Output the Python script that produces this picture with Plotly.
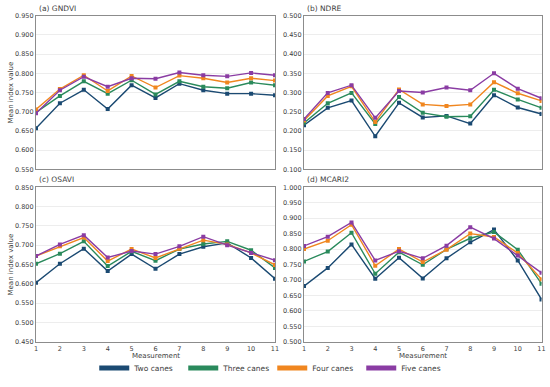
import plotly.graph_objects as go

measurements = list(range(1, 11 + 1))
series_names = ["Two canes", "Three canes", "Four canes", "Five canes"]
series_colors = ["#1b4a72", "#2a8a5c", "#f0861f", "#8a3ca3"]

gndvi_two = [0.657, 0.722, 0.757, 0.707, 0.769, 0.736, 0.773, 0.756, 0.747, 0.747, 0.743]
gndvi_three = [0.698, 0.741, 0.779, 0.747, 0.782, 0.745, 0.779, 0.765, 0.761, 0.776, 0.769]
gndvi_four = [0.706, 0.759, 0.795, 0.754, 0.793, 0.763, 0.794, 0.787, 0.776, 0.787, 0.781]
gndvi_five = [0.696, 0.756, 0.791, 0.765, 0.787, 0.786, 0.802, 0.795, 0.792, 0.801, 0.795]

ndre_two = [0.215, 0.260, 0.279, 0.186, 0.273, 0.235, 0.239, 0.219, 0.293, 0.261, 0.244]
ndre_three = [0.221, 0.272, 0.299, 0.218, 0.288, 0.247, 0.237, 0.238, 0.307, 0.282, 0.260]
ndre_four = [0.227, 0.291, 0.316, 0.223, 0.308, 0.269, 0.265, 0.269, 0.327, 0.298, 0.278]
ndre_five = [0.231, 0.299, 0.319, 0.234, 0.304, 0.300, 0.313, 0.306, 0.350, 0.310, 0.285]

osavi_two = [0.603, 0.652, 0.691, 0.633, 0.677, 0.639, 0.677, 0.696, 0.706, 0.667, 0.613]
osavi_three = [0.652, 0.678, 0.710, 0.646, 0.684, 0.660, 0.690, 0.703, 0.710, 0.687, 0.641]
osavi_four = [0.672, 0.697, 0.720, 0.659, 0.690, 0.667, 0.691, 0.713, 0.702, 0.680, 0.649]
osavi_five = [0.672, 0.702, 0.726, 0.668, 0.685, 0.677, 0.697, 0.722, 0.700, 0.680, 0.661]

mcari2_two = [0.680, 0.739, 0.815, 0.704, 0.772, 0.705, 0.770, 0.822, 0.863, 0.763, 0.637]
mcari2_three = [0.760, 0.792, 0.853, 0.720, 0.790, 0.749, 0.799, 0.835, 0.855, 0.798, 0.688]
mcari2_four = [0.800, 0.827, 0.879, 0.746, 0.800, 0.758, 0.798, 0.850, 0.839, 0.787, 0.702]
mcari2_five = [0.810, 0.840, 0.886, 0.763, 0.793, 0.770, 0.811, 0.871, 0.834, 0.779, 0.723]

panel_titles = ["(a) GNDVI", "(b) NDRE", "(c) OSAVI", "(d) MCARI2"]
panel_data = [
    [gndvi_two, gndvi_three, gndvi_four, gndvi_five],
    [ndre_two, ndre_three, ndre_four, ndre_five],
    [osavi_two, osavi_three, osavi_four, osavi_five],
    [mcari2_two, mcari2_three, mcari2_four, mcari2_five],
]
y_ranges = [(0.55, 0.95), (0.10, 0.50), (0.45, 0.85), (0.50, 1.00)]

W, H = 550, 387
x_domains = [(36 / W, 275 / W), (304 / W, 541.5 / W)]
y_domains = [(1 - 169.3 / H, 1 - 15.7 / H), (1 - 341.7 / H, 1 - 187.3 / H)]

FONT = "DejaVu Sans"
TXT = "#404040"

fig = go.Figure()
layout = {}
annotations = []
for i in range(4):
    row, col = divmod(i, 2)
    n = "" if i == 0 else str(i + 1)
    xa, ya = "xaxis" + n, "yaxis" + n
    xref, yref = "x" + n, "y" + n
    for s in range(4):
        fig.add_trace(go.Scatter(
            x=measurements, y=panel_data[i][s], mode="lines+markers",
            line=dict(color=series_colors[s], width=1.4),
            marker=dict(color=series_colors[s], size=4, symbol="square"),
            showlegend=False, xaxis=xref, yaxis=yref, name=series_names[s]))
    layout[xa] = dict(
        domain=x_domains[col], anchor=yref, range=[1, 11], tickvals=measurements,
        showticklabels=(row == 1), showgrid=False, zeroline=False, automargin=False,
        showline=True, mirror=True, linecolor="#8c8c8c", linewidth=1.3,
        ticks="", tickfont=dict(size=6.5, color=TXT, family=FONT))
    layout[ya] = dict(
        domain=y_domains[row], anchor=xref, range=list(y_ranges[i]), dtick=0.05,
        tick0=0, tickformat=".3f", showgrid=True, gridcolor="#ededed", gridwidth=0.8,
        zeroline=False, showline=True, mirror=True, linecolor="#8c8c8c", linewidth=1.3,
        automargin=False, ticks="", tickfont=dict(size=6.5, color=TXT, family=FONT))
    annotations.append(dict(
        text=panel_titles[i], xref="paper", yref="paper",
        x=x_domains[col][0] + 1 / W, y=y_domains[row][1] + 1 / H,
        xanchor="left", yanchor="bottom", showarrow=False,
        font=dict(size=7.5, color=TXT, family=FONT)))
    if row == 1:
        annotations.append(dict(
            text="Measurement", xref="paper", yref="paper",
            x=sum(x_domains[col]) / 2, y=1 - 356 / H,
            xanchor="center", yanchor="middle", showarrow=False,
            font=dict(size=7, color=TXT, family=FONT)))
    if col == 0:
        annotations.append(dict(
            text="Mean index value", xref="paper", yref="paper",
            x=10 / W, y=sum(y_domains[row]) / 2, textangle=-90,
            xanchor="center", yanchor="middle", showarrow=False,
            font=dict(size=7, color=TXT, family=FONT)))

for s in range(4):
    fig.add_trace(go.Scatter(
        x=[None], y=[None], mode="lines", name=series_names[s],
        line=dict(color=series_colors[s], width=5), showlegend=True))

fig.update_layout(
    width=W, height=H, margin=dict(l=0, r=0, t=0, b=0),
    paper_bgcolor="white", plot_bgcolor="white",
    font=dict(family=FONT, color=TXT),
    annotations=annotations,
    legend=dict(orientation="h", x=0.495, xanchor="center", y=1 - 368 / H, yanchor="middle",
                font=dict(size=7.5, color=TXT, family=FONT), itemwidth=30,
                entrywidth=44, bgcolor="rgba(0,0,0,0)"),
    **layout)

fig.write_html(
    "out.html",
    config={"displayModeBar": False},
    post_script="document.body.style.margin='0';document.body.style.padding='0';")
